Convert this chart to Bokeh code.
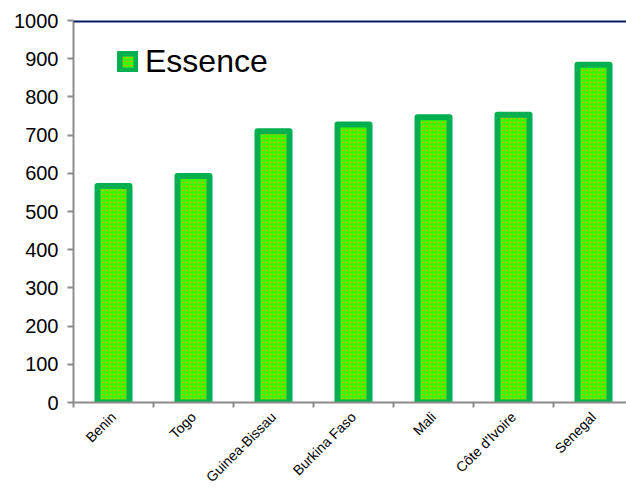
from math import pi

from bokeh.embed import file_html
from bokeh.models import (ColumnDataSource, FixedTicker, Legend, LegendItem,
                          Range1d, Span)
from bokeh.plotting import figure
from bokeh.resources import INLINE

countries = ["Benin", "Togo", "Guinea-Bissau", "Burkina Faso", "Mali",
             "Côte d'Ivoire", "Senegal"]
essence = [567, 593, 710, 728, 747, 753, 884]
y_ticks = [0, 100, 200, 300, 400, 500, 600, 700, 800, 900, 1000]

centers = [i + 0.5 for i in range(len(countries))]
source = ColumnDataSource(dict(x=centers, top=essence, name=countries))

p = figure(width=626, height=493, output_backend="svg", toolbar_location=None,
           x_range=Range1d(0, 6.9125), y_range=Range1d(0, 1000),
           min_border_left=73, min_border_top=20, min_border_right=0,
           min_border_bottom=91)

bars = p.vbar(x="x", top="top", bottom=0, width=0.4, source=source,
              fill_color="#33FF00", line_color="#00B050", line_width=6,
              line_join="round", hatch_pattern="dot", hatch_color="#FF9900",
              hatch_scale=4, hatch_weight=1.3, hatch_alpha=0.95)

# plot area styling
p.grid.visible = False
p.outline_line_color = None
p.background_fill_color = "white"
p.border_fill_color = "white"
p.add_layout(Span(location=1000, dimension="width", line_color="#0A1A66",
                  line_width=4))

# y axis
ya = p.yaxis[0]
ya.ticker = FixedTicker(ticks=y_ticks)
ya.axis_line_color = "#8C8C8C"
ya.axis_line_width = 2
ya.major_tick_line_color = "#8C8C8C"
ya.major_tick_line_width = 2
ya.major_tick_in = 0
ya.major_tick_out = 6
ya.minor_tick_line_color = None
ya.major_label_standoff = 9
ya.major_label_text_font = "Liberation Sans"
ya.major_label_text_font_size = "20px"
ya.major_label_text_color = "black"

# x axis: labels at category centres, tick marks on category boundaries
xa = p.xaxis[0]
xa.ticker = FixedTicker(ticks=centers,
                        minor_ticks=list(range(len(countries) + 1)))
xa.major_label_overrides = {c: n for c, n in zip(centers, countries)}
xa.major_label_orientation = pi / 4
xa.major_tick_line_color = None
xa.major_tick_in = 0
xa.major_tick_out = 0
xa.minor_tick_line_color = "#8C8C8C"
xa.minor_tick_line_width = 2
xa.minor_tick_in = 0
xa.minor_tick_out = 5
xa.axis_line_color = "#8C8C8C"
xa.axis_line_width = 2
xa.major_label_standoff = 7
xa.major_label_text_font = "Liberation Sans"
xa.major_label_text_font_size = "14px"
xa.major_label_text_color = "black"

legend = Legend(items=[LegendItem(label="Essence", renderers=[bars])],
                location=(44, 322), padding=0, margin=0, spacing=0,
                glyph_width=21, glyph_height=21, label_standoff=7,
                label_text_font="Liberation Sans",
                label_text_font_size="32px", label_text_color="black",
                border_line_color=None, background_fill_alpha=0)
p.add_layout(legend)

open("out.html", "w").write(file_html(p, INLINE))
